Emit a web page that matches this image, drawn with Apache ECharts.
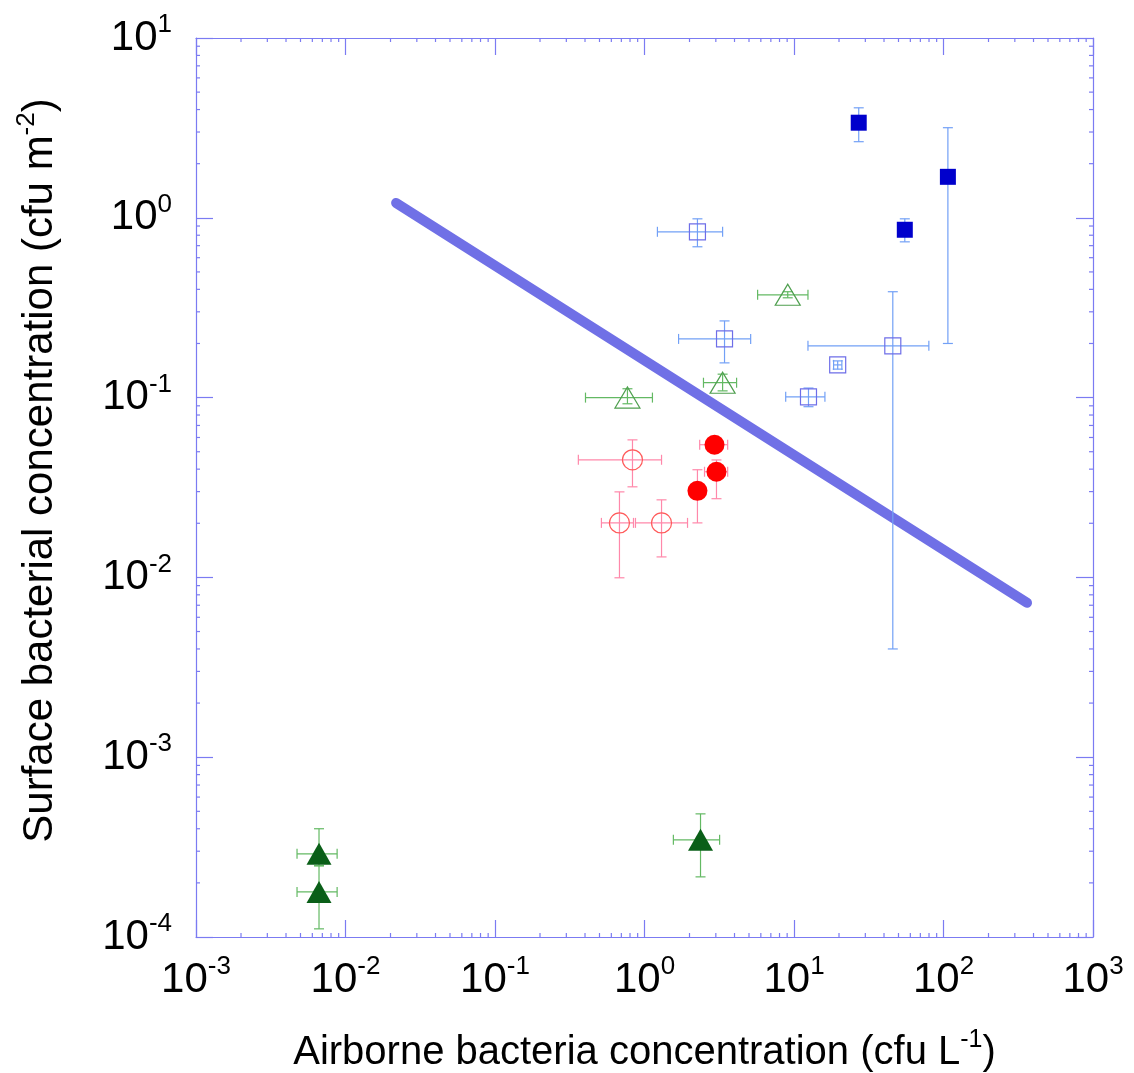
<!DOCTYPE html>
<html>
<head>
<meta charset="utf-8">
<script src="https://cdn.jsdelivr.net/npm/echarts@6/dist/echarts.min.js"></script>
<style>
  html, body { margin: 0; padding: 0; background: #ffffff; }
  #chart { width: 1134px; height: 1073px; }
</style>
</head>
<body>
<div id="chart"></div>
<script>
// Each point: [x, y, xLow, xHigh, yLow, yHigh]  (null = no error bar)
const filledSquares = [
  [27.1, 3.38, null, null, 2.65, 4.09],
  [107, 1.69, null, null, 0.20, 3.17],
  [55.1, 0.858, null, null, 0.735, 0.987]
];
const openSquares = [
  [2.26, 0.836, 1.22, 3.33, 0.69, 0.987],
  [3.43, 0.212, 1.69, 5.13, 0.156, 0.267],
  [45.8, 0.194, 12.4, 79.8, 0.004, 0.388],
  [19.6, 0.152, 18.4, 20.9, 0.144, 0.160],
  [12.5, 0.101, 8.8, 16.1, 0.089, 0.113]
];
const openTriangles = [
  [9.08, 0.373, 5.71, 12.4, 0.359, 0.388],
  [3.33, 0.121, 2.48, 4.13, 0.109, 0.135],
  [0.769, 0.100, 0.403, 1.13, 0.0924, 0.112]
];
const filledTriangles = [
  [0.00665, 0.000290, 0.00474, 0.00879, 0.000249, 0.000400],
  [0.00665, 0.000178, 0.00474, 0.00879, 0.000111, 0.000249],
  [2.37, 0.000347, 1.56, 3.18, 0.000216, 0.000484]
];
const openCircles = [
  [0.831, 0.0451, 0.361, 1.30, 0.0319, 0.0582],
  [0.680, 0.0201, 0.515, 0.844, 0.00995, 0.0299],
  [1.30, 0.0201, 0.87, 1.94, 0.0130, 0.0270]
];
const filledCircles = [
  [2.94, 0.0547, 2.34, 3.60, null, null],
  [3.03, 0.0387, 2.52, 3.60, 0.0274, 0.0450],
  [2.26, 0.0303, null, null, 0.0201, 0.0397]
];
// Regression line end points
const fitLine = [[0.0218, 1.21], [362, 0.00722]];

// Axis ranges and tick helpers
const xRange = [0.001, 1000];
const yRange = [0.0001, 10];
const xDecades = [-3, -2, -1, 0, 1, 2];
const yDecades = [-4, -3, -2, -1, 0];
const minorMultipliers = [2, 3, 4, 5, 6, 7, 8, 9];

const FONT = 'Liberation Sans, Arial, sans-serif';
const FRAME = '#7b7bf2';

// minor ticks on all four sides: [x, y, side] side 0 bottom, 1 top, 2 left, 3 right
const minorTicks = [];
xDecades.forEach(function (k) {
  minorMultipliers.forEach(function (m) {
    const v = m * Math.pow(10, k);
    minorTicks.push([v, yRange[0], 0]);
    minorTicks.push([v, yRange[1], 1]);
  });
});
yDecades.forEach(function (k) {
  minorMultipliers.forEach(function (m) {
    const v = m * Math.pow(10, k);
    minorTicks.push([xRange[0], v, 2]);
    minorTicks.push([xRange[1], v, 3]);
  });
});

function isNum(v) { return v != null && !isNaN(v); }

function errorSeries(data, color) {
  const cap = 5;
  return {
    type: 'custom',
    data: data,
    z: 3,
    silent: true,
    renderItem: function (params, api) {
      const x = api.value(0), y = api.value(1);
      const xl = api.value(2), xh = api.value(3), yl = api.value(4), yh = api.value(5);
      const style = { stroke: color, lineWidth: 1.2, fill: null };
      const children = [];
      function seg(x1, y1, x2, y2) {
        children.push({ type: 'line', shape: { x1: x1, y1: y1, x2: x2, y2: y2 }, style: style });
      }
      if (isNum(xl) && isNum(xh)) {
        const a = api.coord([xl, y]), b = api.coord([xh, y]);
        seg(a[0], a[1], b[0], b[1]);
        seg(a[0], a[1] - cap, a[0], a[1] + cap);
        seg(b[0], b[1] - cap, b[0], b[1] + cap);
      }
      if (isNum(yl) && isNum(yh)) {
        const a = api.coord([x, yl]), b = api.coord([x, yh]);
        seg(a[0], a[1], b[0], b[1]);
        seg(a[0] - cap, a[1], a[0] + cap, a[1]);
        seg(b[0] - cap, b[1], b[0] + cap, b[1]);
      }
      return { type: 'group', children: children };
    }
  };
}

function markerSeries(data, symbol, size, fill, border) {
  return {
    type: 'scatter',
    data: data.map(function (d) { return [d[0], d[1]]; }),
    symbol: symbol,
    symbolSize: size,
    z: 4,
    itemStyle: {
      color: fill,
      borderColor: border,
      borderWidth: border ? 1.2 : 0,
      opacity: 1
    },
    emphasis: { disabled: true }
  };
}

const tickLabelRich = {
  b: { fontSize: 42, fontFamily: FONT, color: '#000' },
  s: { fontSize: 26, fontFamily: FONT, color: '#000', padding: [0, 0, 26, 0] }
};
function powLabel(v) {
  const e = Math.round(Math.log10(v));
  return '{b|10}{s|' + e + '}';
}

function baseAxis(range, splitNumber, show, extra) {
  return Object.assign({
    type: 'log',
    logBase: 10,
    min: range[0],
    max: range[1],
    splitNumber: splitNumber,
    axisLine: { show: true, lineStyle: { color: FRAME, width: 1.2 } },
    axisTick: { show: true, inside: true, length: 17, lineStyle: { color: FRAME, width: 1.2 } },
    minorTick: { show: false },
    splitLine: { show: false },
    axisLabel: show ? { formatter: powLabel, rich: tickLabelRich, margin: 17 } : { show: false }
  }, extra || {});
}

const chart = echarts.init(document.getElementById('chart'), null, { renderer: 'canvas' });

const option = {
  animation: false,
  backgroundColor: '#ffffff',
  grid: {
    left: 196, right: 41, top: 38, bottom: 136,
    containLabel: false,
    outerBoundsMode: 'none'
  },
  xAxis: [
    baseAxis(xRange, 6, true, {
      position: 'bottom',
      name: '{t|Airborne bacteria concentration (cfu L}{s|-1}{t|)}',
      nameLocation: 'middle',
      nameGap: 91,
      nameTextStyle: {
        rich: {
          t: { fontSize: 40, fontFamily: FONT, color: '#000' },
          s: { fontSize: 25, fontFamily: FONT, color: '#000', padding: [0, 0, 24, 0] }
        }
      }
    }),
    baseAxis(xRange, 6, false, { position: 'top' })
  ],
  yAxis: [
    baseAxis(yRange, 5, true, {
      position: 'left',
      axisLabel: { formatter: powLabel, rich: tickLabelRich, margin: 24 },
      name: '{t|Surface bacterial concentration (cfu m}{s|-2}{t|)}',
      nameLocation: 'middle',
      nameGap: 130,
      nameRotate: 90,
      nameTextStyle: {
        padding: [0, 0, 0, 34],
        rich: {
          t: { fontSize: 42, fontFamily: FONT, color: '#000' },
          s: { fontSize: 26, fontFamily: FONT, color: '#000', padding: [0, 0, 26, 0] }
        }
      }
    }),
    baseAxis(yRange, 5, false, { position: 'right' })
  ],
  series: [
    {
      type: 'line',
      data: fitLine,
      symbol: 'none',
      z: 2,
      silent: true,
      lineStyle: { color: '#7070e6', width: 10, cap: 'round' }
    },
    {
      type: 'custom',
      data: minorTicks,
      silent: true,
      z: 1,
      renderItem: function (params, api) {
        const p = api.coord([api.value(0), api.value(1)]);
        const side = api.value(2);
        const L = 4;
        let dx = 0, dy = 0;
        if (side === 0) dy = -L;
        else if (side === 1) dy = L;
        else if (side === 2) dx = L;
        else dx = -L;
        return {
          type: 'line',
          shape: { x1: p[0], y1: p[1], x2: p[0] + dx, y2: p[1] + dy },
          style: { stroke: FRAME, lineWidth: 1.2 }
        };
      }
    },
    errorSeries(filledSquares, '#72a0f6'),
    errorSeries(openSquares, '#72a0f6'),
    errorSeries(openTriangles, '#63b963'),
    errorSeries(filledTriangles, '#63b963'),
    errorSeries(openCircles, '#ff88aa'),
    errorSeries(filledCircles, '#ff88aa'),
    markerSeries(filledSquares, 'rect', 16, '#0000cc', null),
    markerSeries(openSquares, 'rect', 16, 'rgba(0,0,0,0)', '#6e6ee8'),
    markerSeries(openTriangles, 'triangle', [25, 21], 'rgba(0,0,0,0)', '#4f9f4f'),
    markerSeries(filledTriangles, 'triangle', [25, 22], '#0a5f18', null),
    markerSeries(openCircles, 'circle', 20, 'rgba(0,0,0,0)', '#ff5a5a'),
    markerSeries(filledCircles, 'circle', 20, '#ff0000', null)
  ]
};

chart.setOption(option);
</script>
</body>
</html>
